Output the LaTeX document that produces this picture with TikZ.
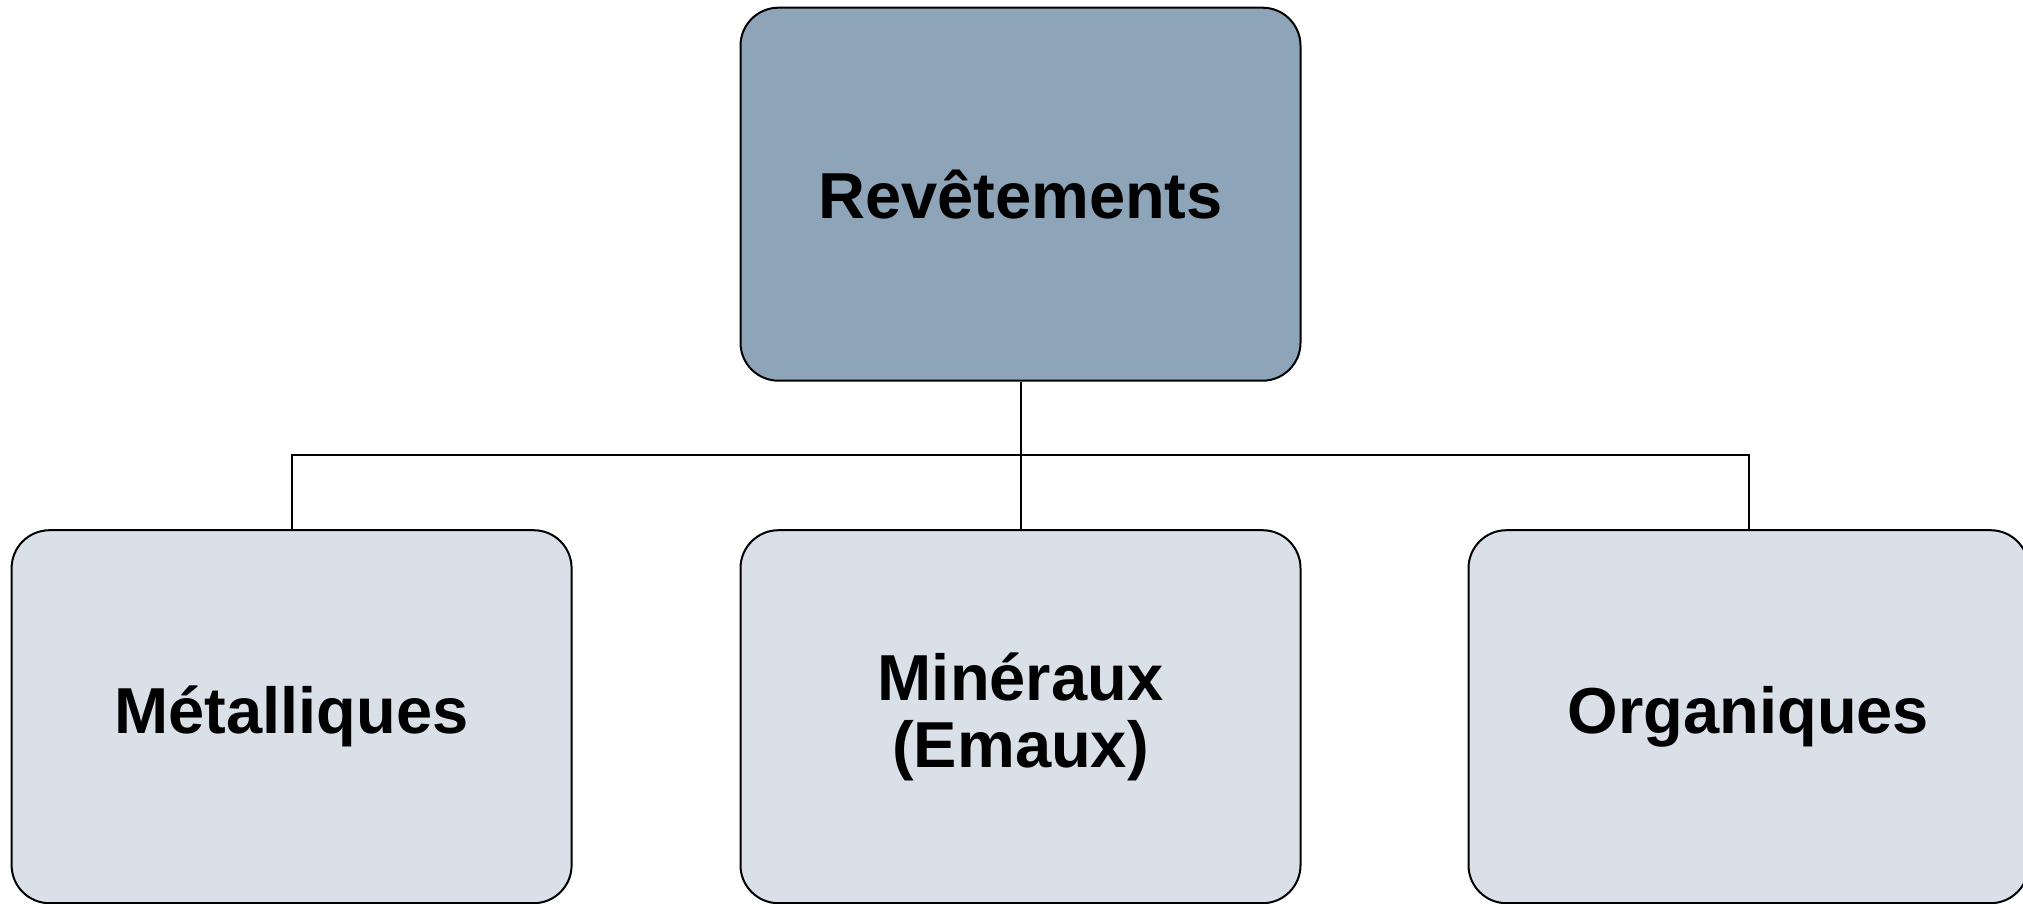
\documentclass[tikz,border=0pt]{standalone}
\usepackage{fontspec}
\setmainfont{Liberation Sans}
\definecolor{rootfill}{RGB}{142,164,184}
\definecolor{leaffill}{RGB}{217,224,232}
\begin{document}
\begin{tikzpicture}[x=1pt,y=-1pt,
  box/.style={draw=black, line width=2pt, rounded corners=38pt,
    minimum width=560pt, minimum height=373pt, inner sep=0pt,
    align=center, font=\fontsize{65}{67}\selectfont\bfseries},
  rootbox/.style={box, fill=rootfill},
  leafbox/.style={box, fill=leaffill},
  link/.style={draw=black, line width=2pt}]
  \useasboundingbox (0,0) rectangle (2023,904);

  \node[rootbox] (root) at (1020.5,194.2) {Revêtements};
  \node[leafbox] (met) at (291.6,716.7) {Métalliques};
  \node[leafbox] (min) at (1020.5,716.7) {Minéraux\\(Emaux)};
  \node[leafbox] (org) at (1748.5,716.7) {Organiques};

  % horizontal bus between the levels
  \coordinate (bus) at (1020.5,455.4);

  \draw[link] (root.south) -- (bus);
  \draw[link] (bus) -| (met.north);
  \draw[link] (bus) -- (min.north);
  \draw[link] (bus) -| (org.north);
\end{tikzpicture}
\end{document}
